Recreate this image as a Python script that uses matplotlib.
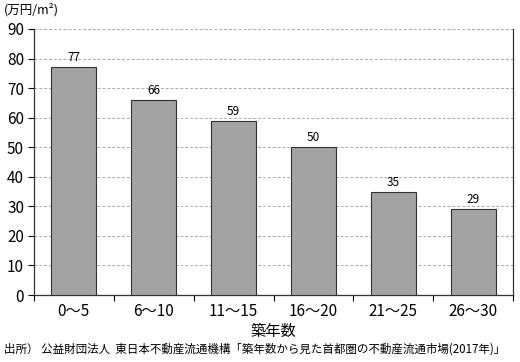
import matplotlib.pyplot as plt
import numpy as np

plt.rcParams['font.family'] = ['Noto Sans CJK JP', 'DejaVu Sans']

categories = ['0〜5', '6〜10', '11〜15', '16〜20', '21〜25', '26〜30']
values = [77, 66, 59, 50, 35, 29]

fig = plt.figure(figsize=(5.2, 3.62), dpi=100)
ax = fig.add_axes([0.065, 0.185, 0.922, 0.735])

x = np.arange(len(categories))
ax.bar(x, values, width=0.56, color='#a3a3a3', edgecolor='#333333', linewidth=0.8, zorder=3)

for xi, v in zip(x, values):
    ax.text(xi, v + 1.0, str(v), ha='center', va='bottom', fontsize=8.5, zorder=4)

ax.set_xlim(-0.5, len(categories) - 0.5)
ax.set_ylim(0, 90)
ax.set_yticks(np.arange(0, 91, 10))
ax.tick_params(axis='y', labelsize=11, length=4, direction='out', pad=3)

# category labels in the middle, ticks on the boundaries
ax.set_xticks(np.arange(-0.5, len(categories), 1))
ax.set_xticklabels([])
ax.tick_params(axis='x', length=4, direction='out')
ax.set_xticks(x, minor=True)
ax.set_xticklabels(categories, minor=True, fontsize=11)
ax.tick_params(axis='x', which='minor', length=0, pad=6)

ax.yaxis.grid(True, linestyle=(0, (3, 2)), color='#aaaaaa', linewidth=0.7, zorder=0)
ax.spines['top'].set_visible(False)
for s in ['left', 'bottom', 'right']:
    ax.spines[s].set_color('#333333')
    ax.spines[s].set_linewidth(0.9)

ax.set_xlabel('築年数', fontsize=11, labelpad=2)
fig.text(0.008, 0.972, '(万円/m²)', fontsize=9, ha='left', va='center')
fig.text(0.008, 0.035, '出所） 公益財団法人  東日本不動産流通機構「築年数から見た首都圏の不動産流通市場(2017年)」',
         fontsize=8.3, ha='left', va='center')

plt.savefig('out.png', dpi=100)
